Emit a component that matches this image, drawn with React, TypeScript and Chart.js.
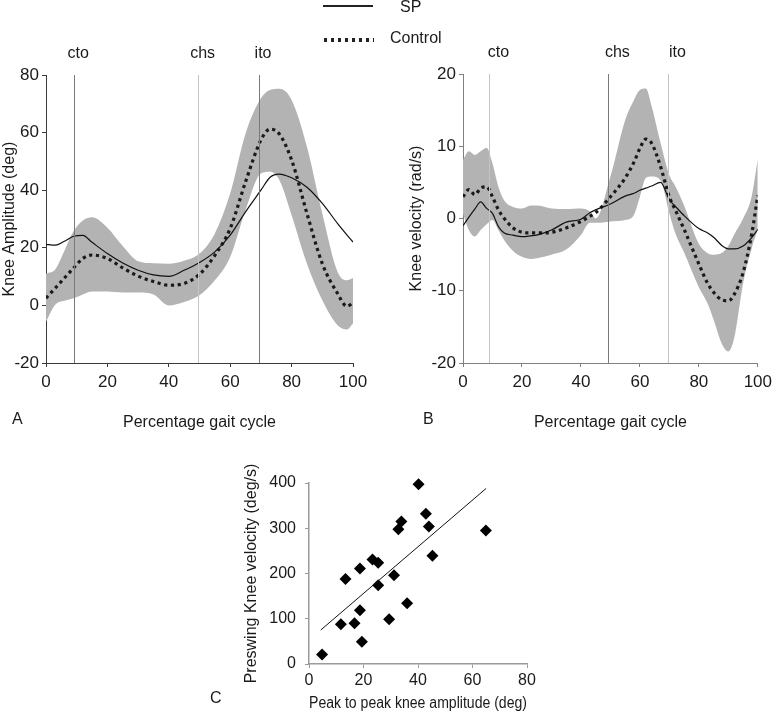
import React, { useEffect, useRef } from "react";
import { Chart, registerables } from "chart.js";

Chart.register(...registerables);

const FONT = "'Liberation Sans', Arial, Helvetica, sans-serif";

// ---------- Panel A: knee amplitude ----------
const ampX = [0, 3, 6, 9, 12, 15, 20, 25, 30, 35, 40, 45, 50, 55, 60, 65, 70, 73, 76, 80, 85, 90, 95, 98, 100];
const ampSP = [21.2, 20.9, 22.3, 24.0, 24.3, 21.9, 18.0, 14.7, 12.2, 10.6, 10.1, 12.2, 14.9, 18.6, 24.4, 32.5, 40.0, 44.5, 45.6, 44.3, 41.0, 35.4, 28.4, 24.5, 22.0];
const ampControl = [2.5, 6.0, 9.5, 13.0, 16.3, 17.5, 16.3, 13.0, 10.2, 8.3, 7.0, 7.6, 10.8, 17.4, 26.7, 42.9, 57.4, 61.2, 59.5, 50.5, 31.9, 14.5, 4.1, -0.3, 0.9];
const ampUpper = [11.1, 12.5, 19.0, 25.8, 29.5, 30.6, 27.0, 20.6, 15.3, 14.6, 14.5, 15.5, 18.0, 25.0, 38.9, 59.7, 71.9, 74.8, 75.2, 71.3, 55.1, 31.9, 11.6, 8.7, 9.5];
const ampLower = [-5.7, 0.2, 1.6, 2.5, 3.8, 4.8, 4.8, 4.5, 4.5, 3.8, 0.0, 1.2, 3.5, 8.7, 16.8, 33.1, 45.8, 46.4, 43.5, 31.3, 14.5, 1.8, -6.9, -8.4, -6.3];
const ampEvents = [9.2, 49.7, 69.4];

// ---------- Panel B: knee velocity ----------
const velX = [0, 2, 4, 6, 8, 10, 12, 14, 17, 20, 23, 25, 30, 35, 40, 43, 45, 50, 55, 58, 60, 62, 64, 67, 70, 72, 75, 80, 83, 85, 88, 90, 92, 95, 98, 100];
const velSP = [-1.0, 0.2, 1.3, 2.3, 1.4, 0.7, -1.1, -2.0, -2.3, -2.5, -2.4, -2.3, -1.6, -0.5, -0.1, 0.8, 1.2, 2.0, 3.1, 3.5, 3.9, 4.2, 4.5, 5.0, 2.6, 1.7, 0.4, -1.4, -2.0, -2.6, -3.8, -4.2, -4.2, -3.8, -2.6, -1.5];
const velControl = [3.0, 4.0, 3.3, 4.2, 4.4, 3.0, 1.2, 0.0, -1.3, -1.9, -2.0, -2.0, -1.9, -1.3, -0.4, 0.3, 0.8, 3.0, 5.6, 7.8, 9.7, 11.0, 10.4, 7.2, 3.0, 1.2, -1.5, -6.3, -9.0, -10.2, -11.3, -11.4, -10.5, -7.5, -2.0, 3.2];
const velUpper = [8.1, 9.3, 8.8, 9.3, 9.8, 7.6, 4.4, 2.5, 1.6, 1.4, 1.8, 1.8, 1.4, 1.3, 1.4, 1.0, 0.0, 5.8, 13.6, 16.4, 17.8, 18.0, 15.5, 10.5, 6.0, 4.5, 1.8, -3.5, -4.8, -5.0, -4.7, -3.8, -2.2, 0.0, 3.2, 8.3];
const velLower = [0.7, -1.6, -2.5, -1.6, -0.8, -0.2, -1.6, -3.0, -4.5, -5.3, -5.6, -5.5, -5.0, -4.3, -2.3, -0.6, -0.6, -0.4, -0.2, 0.5, 3.0, 5.6, 5.8, 5.3, 0.7, -2.0, -4.7, -9.5, -11.8, -14.0, -17.5, -18.4, -16.5, -9.0, -4.0, -1.5];
const velEvents = [9.0, 49.3, 69.7];

const eventLabels = ["cto", "chs", "ito"];

// ---------- Panel C: scatter ----------
const peakAmp = [4.8, 11.7, 13.4, 16.7, 18.7, 18.7, 19.4, 23.3, 25.4, 25.4, 29.4, 31.2, 32.8, 33.9, 36.0, 40.2, 42.9, 44.0, 45.3, 64.9];
const preswingVel = [21, 88, 188, 90, 211, 119, 49, 231, 224, 174, 99, 196, 298, 315, 134, 397, 332, 304, 239, 295];
const fitX = [4.3, 65.0];
const fitY = [75, 388];

const BAND = "#b3b3b3";
const TXT = "#1a1a1a";

const pts = (xs: number[], ys: number[]) => xs.map((x, i) => ({ x, y: ys[i] }));

interface GaitOpts {
  xs: number[];
  sp: number[];
  ctrl: number[];
  up: number[];
  lo: number[];
  events: number[];
  eventColors: string[];
  yMin: number;
  yMax: number;
  yStep: number;
  yTitle: string;
  yWidth: number;
  yTitlePad: number;
  topH: number;
  padRight: number;
  labelOffset: number;
  axisColor: string;
}

function gaitConfig(o: GaitOpts): any {
  return {
    type: "line",
    data: {
      datasets: [
        { data: pts(o.xs, o.sp), borderColor: "#111", borderWidth: 1.2, pointRadius: 0, fill: false, cubicInterpolationMode: "monotone" },
        { data: pts(o.xs, o.ctrl), borderColor: "#1a1a1a", borderWidth: 3.2, borderDash: [3.2, 3.6], borderCapStyle: "butt", pointRadius: 0, fill: false, cubicInterpolationMode: "monotone" },
        { data: pts(o.xs, o.up), borderColor: "rgba(0,0,0,0)", borderWidth: 0, backgroundColor: BAND, pointRadius: 0, fill: "+1", cubicInterpolationMode: "monotone" },
        { data: pts(o.xs, o.lo), borderColor: "rgba(0,0,0,0)", borderWidth: 0, pointRadius: 0, fill: false, cubicInterpolationMode: "monotone" },
      ],
    },
    options: {
      responsive: false,
      maintainAspectRatio: false,
      animation: false,
      devicePixelRatio: 1,
      layout: { padding: { left: 0, right: o.padRight, top: 0, bottom: 0 } },
      plugins: { legend: { display: false }, tooltip: { enabled: false } },
      scales: {
        x: {
          type: "linear",
          position: "bottom",
          min: 0,
          max: 100,
          afterFit: (s: any) => { s.height = 77; },
          ticks: { stepSize: 20, maxRotation: 0, padding: 5, color: TXT, font: { family: FONT, size: 17 } },
          grid: { display: true, drawOnChartArea: false, drawTicks: true, tickLength: 4, color: o.axisColor },
          border: { display: true, color: o.axisColor, width: 1 },
          title: { display: true, text: "Percentage gait cycle", color: TXT, font: { family: FONT, size: 16 }, padding: { top: 0, bottom: 8 } },
        },
        x2: {
          type: "linear",
          position: "top",
          min: 0,
          max: 100,
          afterFit: (s: any) => { s.height = o.topH; },
          afterBuildTicks: (s: any) => { s.ticks = o.events.map((v) => ({ value: v })); },
          ticks: {
            autoSkip: false,
            maxRotation: 0,
            padding: 12,
            labelOffset: o.labelOffset,
            color: TXT,
            font: { family: FONT, size: 16 },
            callback: (_v: any, i: number) => eventLabels[i],
          },
          grid: { display: true, drawOnChartArea: true, drawTicks: false, z: 1, lineWidth: 1, color: (ctx: any) => o.eventColors[ctx.index] || "#888" },
          border: { display: false },
        },
        y: {
          type: "linear",
          min: o.yMin,
          max: o.yMax,
          afterFit: (s: any) => { s.width = o.yWidth; },
          ticks: { stepSize: o.yStep, padding: 3, color: TXT, font: { family: FONT, size: 17 } },
          grid: { display: true, drawOnChartArea: false, drawTicks: true, tickLength: 4, color: o.axisColor },
          border: { display: true, color: o.axisColor, width: 1 },
          title: { display: true, text: o.yTitle, color: TXT, font: { family: FONT, size: 16 }, padding: { top: o.yTitlePad, bottom: 0 } },
        },
      },
    },
  };
}

function scatterConfig(): any {
  const axisColor = "#9a9a9a";
  return {
    type: "scatter",
    data: {
      datasets: [
        { type: "line", data: pts(fitX, fitY), borderColor: "#111", borderWidth: 1, pointRadius: 0, showLine: true, fill: false },
        { type: "scatter", data: pts(peakAmp, preswingVel), pointStyle: "rectRot", pointRadius: 6, backgroundColor: "#000", borderColor: "#000", borderWidth: 0, clip: false },
      ],
    },
    options: {
      responsive: false,
      maintainAspectRatio: false,
      animation: false,
      devicePixelRatio: 1,
      layout: { padding: { left: 0, right: 33, top: 43, bottom: 0 } },
      plugins: { legend: { display: false }, tooltip: { enabled: false } },
      scales: {
        x: {
          type: "linear",
          min: 0,
          max: 80,
          afterFit: (s: any) => { s.height = 49; },
          ticks: { stepSize: 20, maxRotation: 0, padding: 3, color: TXT, font: { family: FONT, size: 16 } },
          grid: { display: true, drawOnChartArea: false, drawTicks: true, tickLength: 4, color: axisColor },
          border: { display: true, color: axisColor, width: 1.5 },
          title: { display: true, text: "Peak to peak knee amplitude (deg)", color: TXT, font: { family: FONT, size: 16 }, padding: { top: 0, bottom: 0 } },
        },
        y: {
          type: "linear",
          min: 0,
          max: 400,
          afterFit: (s: any) => { s.width = 109; },
          ticks: { stepSize: 100, padding: 9, color: TXT, font: { family: FONT, size: 16 } },
          grid: { display: true, drawOnChartArea: false, drawTicks: true, tickLength: 4, color: axisColor },
          border: { display: true, color: axisColor, width: 1.5 },
          title: { display: true, text: "Preswing Knee velocity (deg/s)", color: TXT, font: { family: FONT, size: 16 }, padding: { top: 42, bottom: 0 } },
        },
      },
    },
  };
}

function ChartCanvas({ config, left, top, width, height }: { config: () => any; left: number; top: number; width: number; height: number }) {
  const ref = useRef<HTMLCanvasElement | null>(null);
  useEffect(() => {
    if (!ref.current) return;
    const chart = new Chart(ref.current, config());
    return () => chart.destroy();
  }, []);
  return (
    <canvas
      ref={ref}
      width={width}
      height={height}
      style={{ position: "absolute", left, top, width, height }}
    />
  );
}

const labelStyle = (left: number, top: number): React.CSSProperties => ({
  position: "absolute",
  left,
  top,
  fontFamily: FONT,
  fontSize: 16,
  lineHeight: "16px",
  color: TXT,
  whiteSpace: "nowrap",
  zIndex: 2,
});

export default function App() {
  return (
    <div style={{ position: "fixed", left: 0, top: 0, width: 777, height: 713, background: "#fff", overflow: "hidden" }}>
      <ChartCanvas
        left={0}
        top={0}
        width={390}
        height={440}
        config={() =>
          gaitConfig({
            xs: ampX, sp: ampSP, ctrl: ampControl, up: ampUpper, lo: ampLower,
            events: ampEvents, eventColors: ["#7a7a7a", "#c4c4c4", "#7a7a7a"],
            yMin: -20, yMax: 80, yStep: 20, yTitle: "Knee Amplitude (deg)",
            yWidth: 46, yTitlePad: 0, topH: 75, padRight: 37, labelOffset: 4, axisColor: "#3a3a3a",
          })
        }
      />
      <ChartCanvas
        left={390}
        top={0}
        width={387}
        height={440}
        config={() =>
          gaitConfig({
            xs: velX, sp: velSP, ctrl: velControl, up: velUpper, lo: velLower,
            events: velEvents, eventColors: ["#c4c4c4", "#7a7a7a", "#c4c4c4"],
            yMin: -20, yMax: 20, yStep: 10, yTitle: "Knee velocity (rad/s)",
            yWidth: 73, yTitlePad: 17, topH: 74, padRight: 7, labelOffset: 9, axisColor: "#808080",
          })
        }
      />
      <ChartCanvas left={200} top={440} width={360} height={273} config={scatterConfig} />

      {/* legend */}
      <div style={{ position: "absolute", left: 323, top: 5, width: 50, height: 2, background: "#222", zIndex: 2 }} />
      <div style={labelStyle(400, -1)}>SP</div>
      <div
        style={{
          position: "absolute",
          left: 324,
          top: 38,
          width: 50,
          height: 3.5,
          background: "repeating-linear-gradient(to right, #222 0px, #222 3.5px, transparent 3.5px, transparent 7px)",
          zIndex: 2,
        }}
      />
      <div style={labelStyle(390, 30)}>Control</div>

      {/* panel letters */}
      <div style={labelStyle(12, 411)}>A</div>
      <div style={labelStyle(423, 411)}>B</div>
      <div style={labelStyle(210, 690)}>C</div>
    </div>
  );
}
